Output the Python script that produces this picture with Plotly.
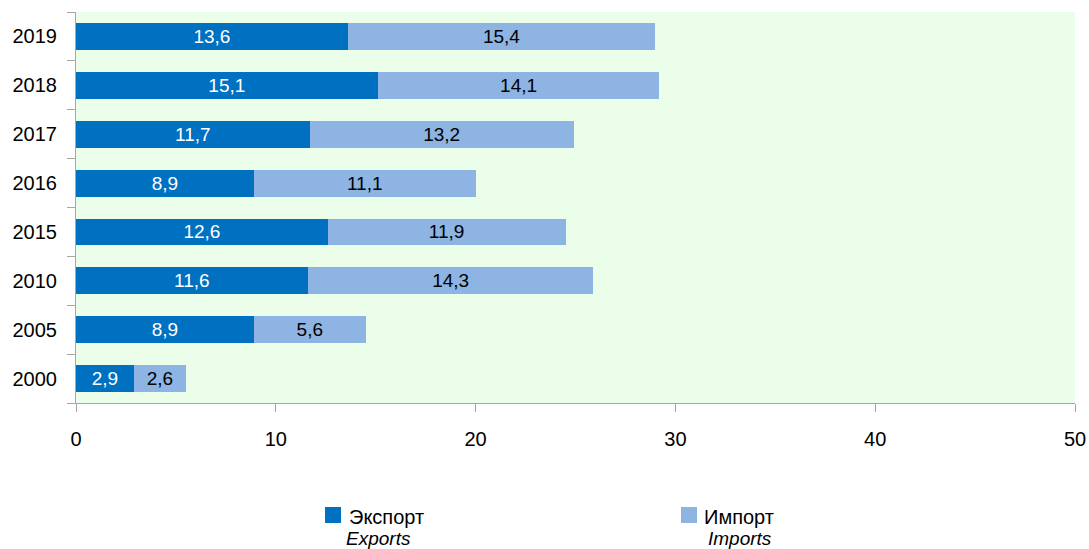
import plotly.graph_objects as go

years = ["2000", "2005", "2010", "2015", "2016", "2017", "2018", "2019"]
exports = [2.9, 8.9, 11.6, 12.6, 8.9, 11.7, 15.1, 13.6]
imports = [2.6, 5.6, 14.3, 11.9, 11.1, 13.2, 14.1, 15.4]
x_ticks = [0, 10, 20, 30, 40, 50]
legend_ru = ["Экспорт", "Импорт"]
legend_en = ["Exports", "Imports"]

FONT = "Liberation Sans, Arial, sans-serif"
C_EXP = "#0070C0"
C_IMP = "#8DB4E2"

W, H = 1089, 549
ML, MR, MT, MB = 76, 14, 12, 146
PW, PH = W - ML - MR, H - MT - MB

def px_x(p):
    return (p - ML) / PW

def px_y(p):
    return (H - MB - p) / PH

def fmt(v):
    return f"{v:.1f}".replace(".", ",")

fig = go.Figure()
fig.add_trace(go.Bar(
    y=years, x=exports, orientation="h", name=legend_ru[0],
    marker=dict(color=C_EXP, line=dict(width=0)),
    text=[fmt(v) for v in exports], textposition="inside", insidetextanchor="middle",
    textangle=0, constraintext="none",
    textfont=dict(color="white", size=19, family=FONT),
))
fig.add_trace(go.Bar(
    y=years, x=imports, orientation="h", name=legend_ru[1],
    marker=dict(color=C_IMP, line=dict(width=0)),
    text=[fmt(v) for v in imports], textposition="inside", insidetextanchor="middle",
    textangle=0, constraintext="none",
    textfont=dict(color="black", size=19, family=FONT),
))

# legend drawn manually (square + two-line label)
shapes = []
annotations = []
leg_sq_x = [325, 681]
leg_ru_x = [348, 703]
leg_en_x = [345, 707]
for i, col in enumerate([C_EXP, C_IMP]):
    shapes.append(dict(
        type="rect", xref="paper", yref="paper",
        x0=px_x(leg_sq_x[i]), x1=px_x(leg_sq_x[i] + 16),
        y0=px_y(507), y1=px_y(523),
        fillcolor=col, line=dict(width=0),
    ))
    annotations.append(dict(
        xref="paper", yref="paper", x=px_x(leg_ru_x[i]), y=px_y(517),
        xanchor="left", yanchor="middle", showarrow=False,
        text=legend_ru[i], font=dict(family=FONT, size=20, color="black"),
        borderpad=0,
    ))
    annotations.append(dict(
        xref="paper", yref="paper", x=px_x(leg_en_x[i]), y=px_y(538),
        xanchor="left", yanchor="middle", showarrow=False,
        text=f"<i>{legend_en[i]}</i>", font=dict(family=FONT, size=19, color="black"),
        borderpad=0,
    ))

fig.update_layout(
    barmode="stack",
    bargap=0.45,
    width=W, height=H,
    margin=dict(l=ML, r=MR, t=MT, b=MB, autoexpand=False),
    paper_bgcolor="white",
    plot_bgcolor="#EBFEEA",
    font=dict(family=FONT, size=19, color="black"),
    showlegend=False,
    shapes=shapes,
    annotations=annotations,
)
fig.update_xaxes(
    range=[0, 50], tickvals=x_ticks, ticktext=[str(v) for v in x_ticks],
    showgrid=False, zeroline=False, showline=True, linecolor="#A6A6A6", linewidth=1,
    ticks="outside", ticklen=8, tickcolor="#A6A6A6",
    tickfont=dict(family=FONT, size=20), ticklabelstandoff=10,
)
fig.update_yaxes(
    type="category", categoryorder="array", categoryarray=years,
    showgrid=False, zeroline=False, showline=True, linecolor="#A6A6A6", linewidth=1,
    ticks="outside", ticklen=8, tickcolor="#A6A6A6", tickson="boundaries",
    tickfont=dict(family=FONT, size=20), ticklabelstandoff=14,
)

fig.write_html(
    "out.html",
    config={"displayModeBar": False},
    post_script="document.body.style.margin='0';document.body.style.overflow='hidden';",
)
